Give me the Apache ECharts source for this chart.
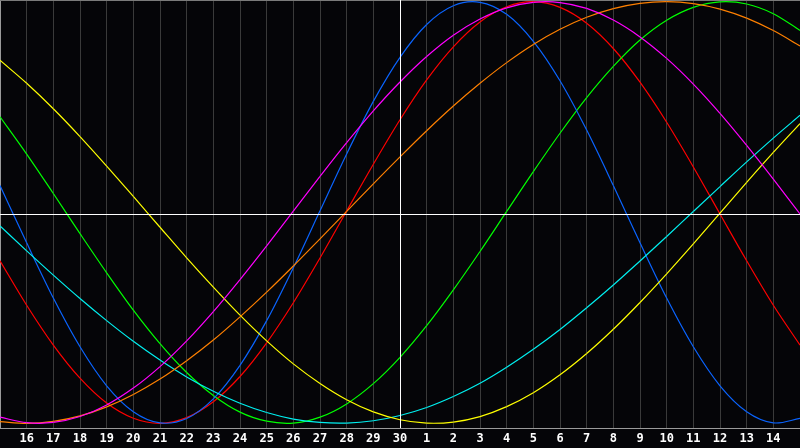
<!DOCTYPE html>
<html>
<head>
<meta charset="utf-8">
<script src="https://cdn.jsdelivr.net/npm/echarts@6/dist/echarts.min.js"></script>
<style>
html,body{margin:0;padding:0;background:#050508;}
#c{width:800px;height:448px;}
</style>
</head>
<body>
<div id="c"></div>
<script>
// Day labels (index 0..30, index 15 = today "30")
const dayLabels = ['', '16','17','18','19','20','21','22','23','24','25','26','27','28','29','30','1','2','3','4','5','6','7','8','9','10','11','12','13','14',''];
const todayIndex = 15;

const redValues = [-0.229,-0.440,-0.629,-0.786,-0.904,-0.976,-1.000,-0.973,-0.898,-0.778,-0.618,-0.428,-0.216,0.007,0.229,0.440,0.629,0.786,0.904,0.976,1.000,0.973,0.898,0.778,0.618,0.428,0.216,-0.007,-0.229,-0.440,-0.629];
const blueValues = [0.128,-0.144,-0.406,-0.637,-0.822,-0.945,-0.998,-0.977,-0.884,-0.725,-0.513,-0.262,0.008,0.278,0.527,0.736,0.892,0.981,0.997,0.940,0.812,0.625,0.391,0.128,-0.144,-0.406,-0.637,-0.822,-0.945,-0.998,-0.977];
const greenValues = [0.454,0.277,0.090,-0.100,-0.286,-0.463,-0.622,-0.759,-0.868,-0.947,-0.990,-0.999,-0.971,-0.908,-0.812,-0.687,-0.537,-0.367,-0.185,0.005,0.194,0.376,0.545,0.693,0.818,0.912,0.973,0.999,0.989,0.943,0.864];
const cyanValues = [-0.064,-0.182,-0.297,-0.408,-0.513,-0.611,-0.700,-0.780,-0.848,-0.905,-0.949,-0.980,-0.996,-0.999,-0.988,-0.963,-0.925,-0.873,-0.810,-0.734,-0.649,-0.555,-0.452,-0.344,-0.230,-0.114,0.005,0.123,0.240,0.353,0.461];
const yellowValues = [0.722,0.613,0.492,0.360,0.220,0.076,-0.070,-0.215,-0.354,-0.487,-0.609,-0.718,-0.811,-0.888,-0.946,-0.983,-0.999,-0.994,-0.968,-0.921,-0.855,-0.770,-0.669,-0.554,-0.427,-0.291,-0.149,-0.003,0.143,0.285,0.422];
const magentaValues = [-0.971,-0.997,-0.996,-0.968,-0.913,-0.833,-0.731,-0.609,-0.470,-0.318,-0.158,0.007,0.171,0.331,0.482,0.619,0.740,0.841,0.918,0.971,0.997,0.996,0.968,0.913,0.833,0.731,0.609,0.470,0.318,0.158,-0.007];
const orangeValues = [-0.992,-1.000,-0.991,-0.965,-0.922,-0.863,-0.790,-0.703,-0.605,-0.495,-0.378,-0.254,-0.125,0.005,0.136,0.264,0.388,0.505,0.613,0.711,0.797,0.869,0.926,0.967,0.992,1.000,0.991,0.965,0.922,0.863,0.790];

const seriesDefs = [
  {name:'red', color:'#ff0000', values: redValues},
  {name:'green', color:'#00ff00', values: greenValues},
  {name:'blue', color:'#0a64ff', values: blueValues},
  {name:'cyan', color:'#00f0f0', values: cyanValues},
  {name:'yellow', color:'#ffff00', values: yellowValues},
  {name:'orange', color:'#ff8000', values: orangeValues},
  {name:'magenta', color:'#ff00ff', values: magentaValues}
];

const chart = echarts.init(document.getElementById('c'), null, {renderer:'canvas'});

// Smooth curve through the data points (Catmull-Rom), positions from the axes via api.coord
function makeRenderer(values, color){
  const n = values.length;
  return function(params, api){
    const i = params.dataIndex;
    if (i >= n - 1) return null;
    function pt(k){
      if (k < 0) { const a = api.coord([0, values[0]]), b = api.coord([1, values[1]]); return [2*a[0]-b[0], 2*a[1]-b[1]]; }
      if (k > n - 1) { const a = api.coord([n-1, values[n-1]]), b = api.coord([n-2, values[n-2]]); return [2*a[0]-b[0], 2*a[1]-b[1]]; }
      return api.coord([k, values[k]]);
    }
    const p0 = pt(i-1), p1 = pt(i), p2 = pt(i+1), p3 = pt(i+2);
    return {
      type: 'bezierCurve',
      shape: {
        x1: p1[0], y1: p1[1], x2: p2[0], y2: p2[1],
        cpx1: p1[0] + (p2[0]-p0[0])/6, cpy1: p1[1] + (p2[1]-p0[1])/6,
        cpx2: p2[0] - (p3[0]-p1[0])/6, cpy2: p2[1] - (p3[1]-p1[1])/6
      },
      style: {stroke: color, lineWidth: 1.2, fill: null},
      silent: true
    };
  };
}

const series = seriesDefs.map(function(s){
  return {
    name: s.name,
    type: 'custom',
    silent: true,
    animation: false,
    clip: true,
    renderItem: makeRenderer(s.values, s.color),
    encode: {x: 0, y: 1},
    data: s.values.map(function(v, i){ return [i, v]; })
  };
});

series.push({
  type: 'line',
  data: [],
  silent: true,
  markLine: {
    silent: true,
    symbol: ['none','none'],
    label: {show: false},
    animation: false,
    lineStyle: {color: '#ffffff', width: 1, type: 'solid'},
    data: [{xAxis: todayIndex}, {yAxis: -0.007}]
  }
});

chart.setOption({
  backgroundColor: '#050508',
  animation: false,
  grid: {left: 0, right: 0, top: 0, bottom: 20},
  xAxis: [{
    type: 'value', min: 0, max: 30, interval: 1, position: 'bottom',
    axisLine: {show: true, onZero: false, lineStyle: {color: '#9a9a9a', width: 1}},
    axisTick: {show: false},
    splitLine: {show: true, lineStyle: {color: '#3a3a3a', width: 1}},
    axisLabel: {
      show: true, color: '#ffffff', fontFamily: 'DejaVu Sans Mono', fontWeight: 'bold', fontSize: 12, margin: 5,
      showMinLabel: false, showMaxLabel: false,
      formatter: function(v){ return dayLabels[Math.round(v)] || ''; }
    }
  },{
    type: 'value', min: 0, max: 30, position: 'top',
    axisLine: {show: true, onZero: false, lineStyle: {color: '#7a7a7a', width: 1}},
    axisTick: {show: false}, axisLabel: {show: false}, splitLine: {show: false}
  }],
  yAxis: {
    type: 'value', min: -1.0223, max: 1.00806,
    axisLine: {show: true, onZero: false, lineStyle: {color: '#9a9a9a', width: 1}},
    axisTick: {show: false}, axisLabel: {show: false}, splitLine: {show: false}
  },
  series: series
});
</script>
</body>
</html>
